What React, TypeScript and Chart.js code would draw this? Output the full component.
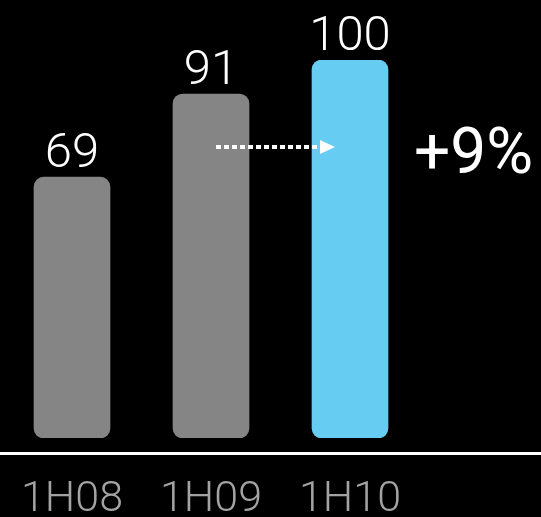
import React, { useEffect, useRef } from "react";
import { Chart, registerables } from "chart.js";

Chart.register(...registerables);

const categories = ["1H08", "1H09", "1H10"];
const values = [69, 91, 100];
const barColors = ["#858585", "#858585", "#66CCF2"];
const growthLabel = "+9%";
const arrowLevel = 77;

const overlay = {
  id: "overlay",
  afterDatasetsDraw(chart: any) {
    const { ctx, chartArea, scales } = chart;
    const x = scales.x;
    const y = scales.y;
    const meta = chart.getDatasetMeta(0);
    ctx.save();
    // value labels
    ctx.fillStyle = "#ffffff";
    ctx.font = "300 49px Roboto";
    ctx.textAlign = "center";
    ctx.textBaseline = "alphabetic";
    meta.data.forEach((bar: any, i: number) => {
      ctx.fillText(String(values[i]), bar.x, bar.y - 10);
    });
    // baseline
    ctx.strokeStyle = "#ffffff";
    ctx.lineWidth = 3;
    ctx.beginPath();
    ctx.moveTo(0, chartArea.bottom + 15.5);
    ctx.lineTo(chart.width, chartArea.bottom + 15.5);
    ctx.stroke();
    // category labels
    ctx.fillStyle = "#a3a3a3";
    ctx.font = "300 43px Roboto";
    categories.forEach((c, i) => {
      ctx.fillText(c, x.getPixelForValue(i), chartArea.bottom + 73);
    });
    // arrow
    const ay = y.getPixelForValue(arrowLevel);
    const b1 = meta.data[1];
    const b2 = meta.data[2];
    const startX = b1.x + 5;
    const headEnd = b2.x - b2.width / 2 + 23;
    const headStart = headEnd - 15;
    ctx.strokeStyle = "#ffffff";
    ctx.lineWidth = 4;
    ctx.setLineDash([5, 3]);
    ctx.beginPath();
    ctx.moveTo(startX, ay);
    ctx.lineTo(headStart, ay);
    ctx.stroke();
    ctx.setLineDash([]);
    ctx.fillStyle = "#ffffff";
    ctx.beginPath();
    ctx.moveTo(headStart, ay - 7);
    ctx.lineTo(headEnd, ay);
    ctx.lineTo(headStart, ay + 7);
    ctx.closePath();
    ctx.fill();
    // growth label
    ctx.font = "400 64px Roboto";
    ctx.textAlign = "left";
    ctx.fillText(growthLabel, 414, ay + 26);
    ctx.restore();
  },
};

export default function App() {
  const ref = useRef<HTMLCanvasElement>(null);
  useEffect(() => {
    document.body.style.margin = "0";
    document.body.style.background = "#000";
    const chart = new Chart(ref.current!, {
      type: "bar",
      data: {
        labels: categories,
        datasets: [
          {
            data: values,
            backgroundColor: barColors,
            borderRadius: 10,
            borderSkipped: false,
            barThickness: 76,
          },
        ],
      },
      options: {
        responsive: false,
        animation: false,
        layout: { padding: { left: 2.5, right: 121.5, top: 60, bottom: 79 } },
        plugins: { legend: { display: false }, tooltip: { enabled: false } },
        scales: {
          x: { display: false },
          y: { display: false, min: 0, max: 100 },
        },
      },
      plugins: [overlay],
    });
    return () => chart.destroy();
  }, []);
  return (
    <div style={{ width: 541, height: 517, background: "#000" }}>
      <canvas ref={ref} width={541} height={517} />
    </div>
  );
}
